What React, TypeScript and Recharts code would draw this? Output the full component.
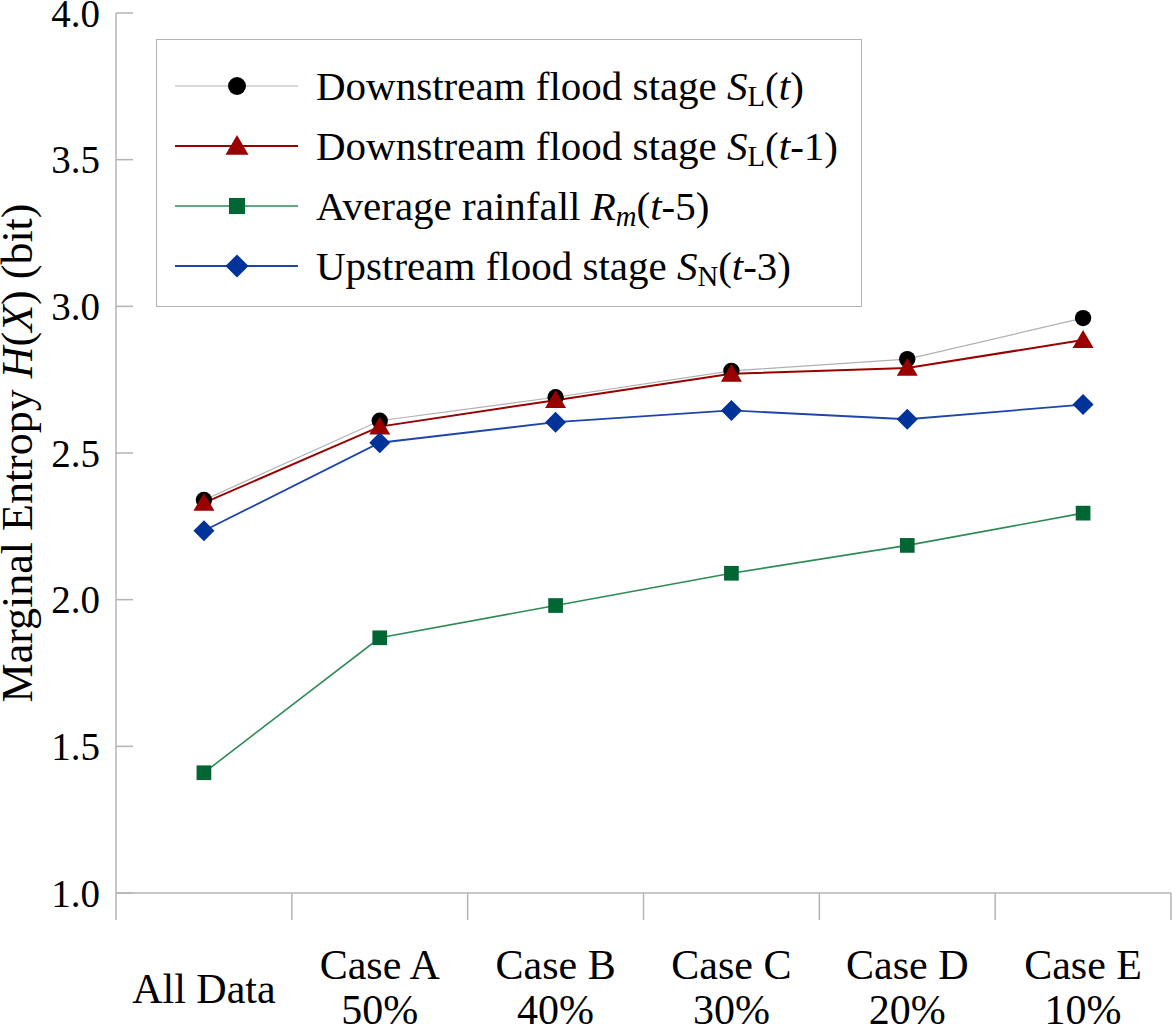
import React from "react";
import { LineChart, Line, XAxis, YAxis } from "recharts";

const categories = ["All Data", "Case A", "Case B", "Case C", "Case D", "Case E"];
const percents = ["", "50%", "40%", "30%", "20%", "10%"];
const slT = [2.34, 2.61, 2.69, 2.78, 2.82, 2.96];
const slT1 = [2.33, 2.59, 2.68, 2.77, 2.79, 2.885];
const rainfall = [1.41, 1.87, 1.98, 2.09, 2.185, 2.295];
const upstream = [2.235, 2.535, 2.605, 2.645, 2.615, 2.665];
const yTicks = [1.0, 1.5, 2.0, 2.5, 3.0, 3.5, 4.0];

const data = categories.map((c, i) => ({
  name: c,
  pct: percents[i],
  slT: slT[i],
  slT1: slT1[i],
  rain: rainfall[i],
  up: upstream[i],
}));

const FONT = "'Times New Roman', 'Liberation Serif', serif";
const AXIS = "#b4b4b4";
const W = 1172;
const H = 1029;
const PLOT_W = 1055;
const HALF_BAND = PLOT_W / categories.length / 2;

type Shape = "circle" | "triangle" | "square" | "diamond";

function Marker({ cx, cy, shape, size, fill }: { cx: number; cy: number; shape: Shape; size: number; fill: string }) {
  const h = size / 2;
  if (shape === "circle") return <circle cx={cx} cy={cy} r={h * 0.78} fill={fill} />;
  if (shape === "square") return <rect x={cx - h * 0.7} y={cy - h * 0.7} width={h * 1.4} height={h * 1.4} fill={fill} />;
  if (shape === "triangle")
    return <polygon points={`${cx},${cy - h * 0.95} ${cx + h},${cy + h * 0.75} ${cx - h},${cy + h * 0.75}`} fill={fill} />;
  return <polygon points={`${cx},${cy - h} ${cx + h},${cy} ${cx},${cy + h} ${cx - h},${cy}`} fill={fill} />;
}

const series = [
  { key: "slT", line: "#b0b0b0", fill: "#000000", shape: "circle" as Shape, width: 1.2, label: <>Downstream flood stage <i>S</i><sub>L</sub>(<i>t</i>)</> },
  { key: "slT1", line: "#990000", fill: "#990000", shape: "triangle" as Shape, width: 2, label: <>Downstream flood stage <i>S</i><sub>L</sub>(<i>t</i>-1)</> },
  { key: "rain", line: "#2e8b57", fill: "#006633", shape: "square" as Shape, width: 1.6, label: <>Average rainfall <i>R</i><sub className="it">m</sub>(<i>t</i>-5)</> },
  { key: "up", line: "#1f45a8", fill: "#003399", shape: "diamond" as Shape, width: 1.8, label: <>Upstream flood stage <i>S</i><sub>N</sub>(<i>t</i>-3)</> },
];

function makeDot(shape: Shape, fill: string) {
  return (props: any) => {
    const { cx, cy, index } = props;
    if (cx == null || cy == null) return <g key={index} />;
    return <Marker key={index} cx={cx} cy={cy} shape={shape} size={21} fill={fill} />;
  };
}

function XTick(props: any) {
  const { x, y, index, payload } = props;
  const pct = percents[index];
  return (
    <g>
      <line x1={x - HALF_BAND} y1={y} x2={x - HALF_BAND} y2={y + 27} stroke={AXIS} strokeWidth={1.5} />
      {index === categories.length - 1 && (
        <line x1={x + HALF_BAND} y1={y} x2={x + HALF_BAND} y2={y + 27} stroke={AXIS} strokeWidth={1.5} />
      )}
      {pct ? (
        <text x={x} textAnchor="middle" fontFamily={FONT} fontSize={42} fill="#000">
          <tspan x={x} y={y + 86}>{payload.value}</tspan>
          <tspan x={x} y={y + 131}>{pct}</tspan>
        </text>
      ) : (
        <text x={x} y={y + 110} textAnchor="middle" fontFamily={FONT} fontSize={42} fill="#000">
          {payload.value}
        </text>
      )}
    </g>
  );
}

function YTick(props: any) {
  const { x, y, payload } = props;
  return (
    <g>
      <line x1={x + 16} y1={y} x2={x + 33} y2={y} stroke={AXIS} strokeWidth={1.5} />
      <text x={x} y={y} dy="0.35em" textAnchor="end" fontFamily={FONT} fontSize={39} fill="#000">
        {Number(payload.value).toFixed(1)}
      </text>
    </g>
  );
}

function YTitle(props: any) {
  const { viewBox } = props;
  const cy = viewBox.y + viewBox.height / 2;
  return (
    <text x={32} y={cy} transform={`rotate(-90, 32, ${cy})`} textAnchor="middle" fontFamily={FONT} fontSize={44} fill="#000">
      Marginal Entropy <tspan fontStyle="italic">H</tspan>(<tspan fontStyle="italic">X</tspan>)  (bit)
    </text>
  );
}

function LegendBox() {
  return (
    <div
      style={{
        position: "absolute",
        left: 156,
        top: 39,
        width: 704,
        height: 250,
        border: `1.5px solid ${AXIS}`,
        background: "#fff",
        boxSizing: "content-box",
        fontFamily: FONT,
        fontSize: 41,
        color: "#000",
        paddingTop: 16,
      }}
    >
      {series.map((s) => (
        <div key={s.key} style={{ display: "flex", alignItems: "center", height: 60, whiteSpace: "pre" }}>
          <svg width={159} height={60} style={{ flex: "none" }}>
            <line x1={18} y1={30} x2={141} y2={30} stroke={s.line} strokeWidth={s.width} />
            <Marker cx={80} cy={30} shape={s.shape} size={23} fill={s.fill} />
          </svg>
          <span style={{ lineHeight: "60px" }}>{s.label}</span>
        </div>
      ))}
    </div>
  );
}

export default function App() {
  return (
    <div style={{ position: "absolute", left: 0, top: 0, width: W, height: H, background: "#fff" }}>
      <style>{"sub{font-size:70%;vertical-align:-0.22em;line-height:0;font-style:normal} sub.it{font-style:italic}"}</style>
      <LineChart width={W} height={H} data={data} margin={{ top: 13, right: 1, bottom: 0, left: 0 }}>
        <XAxis xAxisId="top" orientation="top" dataKey="name" height={0} tick={false} tickLine={false} axisLine={{ stroke: AXIS, strokeWidth: 1.5 }} />
        <XAxis
          dataKey="name"
          height={136}
          interval={0}
          tickSize={0}
          tickMargin={0}
          tickLine={false}
          padding={{ left: HALF_BAND, right: HALF_BAND }}
          axisLine={{ stroke: AXIS, strokeWidth: 1.5 }}
          tick={<XTick />}
        />
        <YAxis
          domain={[1, 4]}
          ticks={yTicks}
          width={116}
          tickSize={0}
          tickMargin={16}
          tickLine={false}
          axisLine={{ stroke: AXIS, strokeWidth: 1.5 }}
          tick={<YTick />}
          label={<YTitle />}
          type="number"
          allowDataOverflow
        />
        <YAxis yAxisId="right" orientation="right" width={0} domain={[1, 4]} tick={false} tickLine={false} axisLine={{ stroke: AXIS, strokeWidth: 1.5 }} />
        {series.map((s) => (
          <Line
            key={s.key}
            dataKey={s.key}
            stroke={s.line}
            strokeWidth={s.width}
            dot={makeDot(s.shape, s.fill)}
            activeDot={false}
            isAnimationActive={false}
            type="linear"
          />
        ))}
      </LineChart>
      <LegendBox />
    </div>
  );
}
